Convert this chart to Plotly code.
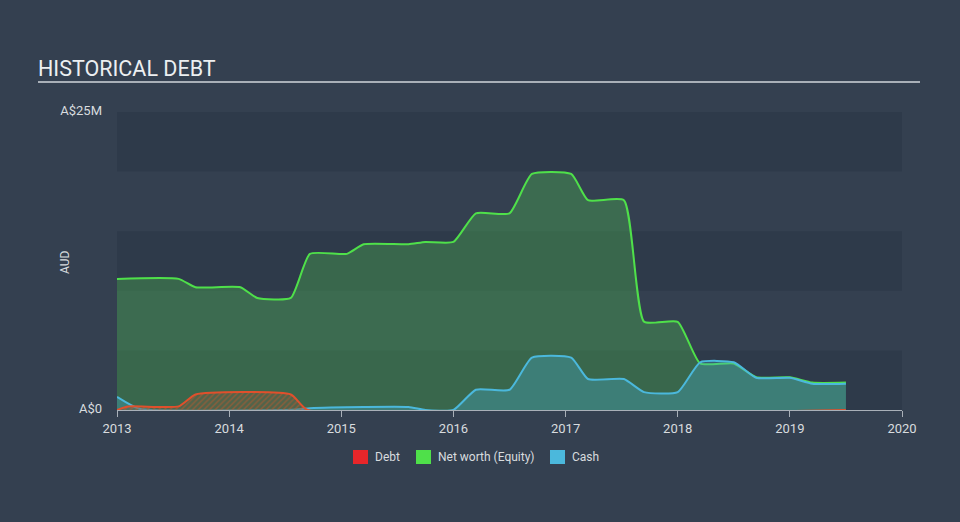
import plotly.graph_objects as go

# Data (values in A$ millions)
equity_x = [2013.0, 2013.55, 2013.7, 2014.1, 2014.25, 2014.55, 2014.72, 2015.05, 2015.2, 2015.6,
            2015.75, 2016.0, 2016.2, 2016.5, 2016.7, 2017.05, 2017.2, 2017.52, 2017.7, 2018.0,
            2018.2, 2018.5, 2018.7, 2019.0, 2019.2, 2019.5]
equity_y = [11.0, 11.0, 10.3, 10.3, 9.4, 9.4, 13.1, 13.1, 13.9, 13.9,
            14.1, 14.1, 16.5, 16.5, 19.8, 19.8, 17.6, 17.6, 7.4, 7.4,
            3.9, 3.9, 2.75, 2.75, 2.3, 2.3]

cash_x = [2013.0, 2013.2, 2014.6, 2014.72, 2015.2, 2015.6, 2015.75, 2016.0, 2016.2, 2016.5,
          2016.7, 2017.05, 2017.2, 2017.52, 2017.7, 2018.0, 2018.2, 2018.5, 2018.7, 2019.0,
          2019.2, 2019.5]
cash_y = [1.1, 0.1, 0.05, 0.15, 0.25, 0.25, 0.0, 0.0, 1.7, 1.7,
          4.4, 4.4, 2.6, 2.6, 1.5, 1.5, 4.0, 4.0, 2.7, 2.7,
          2.2, 2.2]

debt_x = [2013.0, 2013.1, 2013.55, 2013.7, 2014.55, 2014.7, 2019.5]
debt_y = [0.0, 0.3, 0.3, 1.3, 1.3, 0.0, 0.0]

x_ticks = [2013, 2014, 2015, 2016, 2017, 2018, 2019, 2020]
y_tick_vals = [0, 25]
y_tick_text = ["A$0", "A$25M"]

legend_names = ["Debt", "Net worth (Equity)", "Cash"]
legend_colors = ["#e8262a", "#4fe04a", "#4bb8dc"]

BG = "#344050"
BAND = "#2e3a4a"
SM = 0.5

# pixel geometry of plot area (for layout-only items)
PL, PR, PT, PB = 117, 902, 112, 410
PW, PH = PR - PL, PB - PT


def px(xp):
    return (xp - PL) / PW


def py(yp):
    return (PB - yp) / PH


fig = go.Figure()

fig.add_trace(go.Scatter(
    x=equity_x, y=equity_y, name="Net worth (Equity)", mode="lines", showlegend=False,
    line=dict(color="#4fe04a", width=2, shape="spline", smoothing=SM),
    fill="tozeroy", fillcolor="rgba(70,160,80,0.45)",
))
fig.add_trace(go.Scatter(
    x=cash_x, y=cash_y, name="Cash", mode="lines", showlegend=False,
    line=dict(color="#4bb8dc", width=2, shape="spline", smoothing=SM),
    fill="tozeroy", fillcolor="rgba(70,170,200,0.35)",
))
fig.add_trace(go.Scatter(
    x=debt_x, y=debt_y, name="Debt", mode="lines", showlegend=False,
    line=dict(color="#e0502c", width=2, shape="spline", smoothing=SM),
    fill="tozeroy", fillcolor="rgba(0,0,0,0)",
    fillpattern=dict(shape="/", fgcolor="#c8582c", bgcolor="rgba(110,95,70,0.45)", size=4, solidity=0.35),
))

# alternating background bands
for lo in [0, 10, 20]:
    fig.add_shape(type="rect", xref="paper", yref="y", x0=0, x1=1, y0=lo, y1=lo + 5,
                  fillcolor=BAND, line=dict(width=0), layer="below")

# title underline
fig.add_shape(type="line", xref="paper", yref="paper", x0=px(38), x1=px(920),
              y0=py(82), y1=py(82), line=dict(color="#a9b0b8", width=2))

fig.add_annotation(text="AUD", xref="paper", yref="paper", x=px(65), y=py(262),
                   showarrow=False, textangle=-90, font=dict(size=12, color="#d8dcdf"),
                   xanchor="center", yanchor="middle")

# manual legend
sq_left = [353, 416, 550]
for name, col, x0 in zip(legend_names, legend_colors, sq_left):
    fig.add_shape(type="rect", xref="paper", yref="paper", x0=px(x0), x1=px(x0 + 15),
                  y0=py(464), y1=py(450), fillcolor=col, line=dict(width=0))
    fig.add_annotation(text=name, xref="paper", yref="paper", x=px(x0 + 20), y=py(457),
                       showarrow=False, xanchor="left", yanchor="middle",
                       font=dict(size=12, color="#d8dcdf"))

fig.update_layout(
    width=960, height=522,
    paper_bgcolor=BG, plot_bgcolor=BG,
    margin=dict(l=PL, r=960 - PR, t=PT, b=522 - PB),
    font=dict(family="Roboto", color="#d0d4d8", size=12),
    title=dict(text="HISTORICAL DEBT", x=38 / 960, xanchor="left", y=1 - 68 / 522, yanchor="middle",
               font=dict(size=21.5, color="#eceff1", family="Roboto")),
    showlegend=False,
    xaxis=dict(range=[2013, 2020], tickvals=x_ticks, ticktext=[str(t) for t in x_ticks],
               showgrid=False, zeroline=False, showline=True, linecolor="#a9b0b8", linewidth=1,
               ticks="outside", ticklen=6, tickcolor="#a9b0b8",
               tickfont=dict(size=13, color="#d8dcdf")),
    yaxis=dict(range=[0, 25], tickvals=y_tick_vals, ticktext=y_tick_text, showgrid=False,
               zeroline=False, ticks="", ticklabelstandoff=14, ticklabelshift=-2,
               tickfont=dict(size=13, color="#d8dcdf")),
)

fig.write_html("out.html")
